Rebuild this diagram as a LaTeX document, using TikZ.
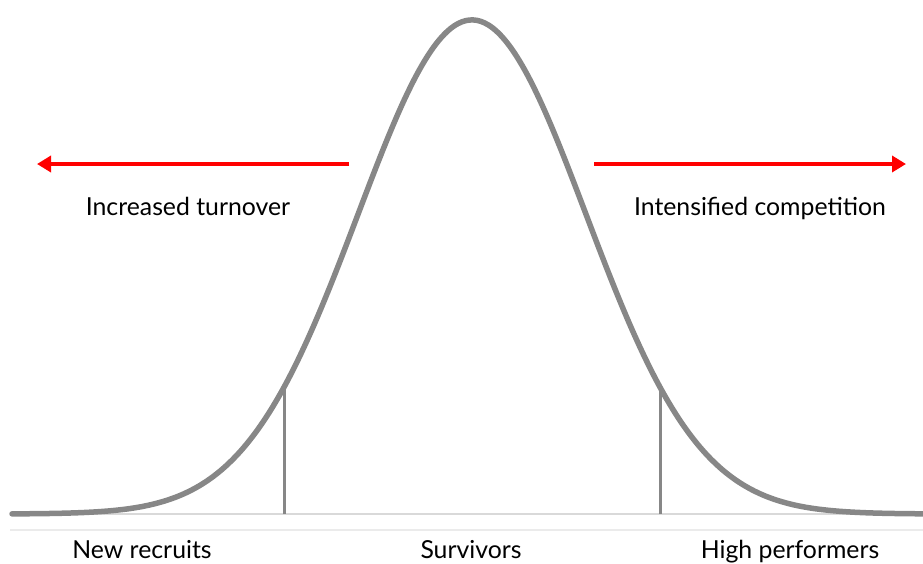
\documentclass[tikz,border=0pt]{standalone}
\usepackage{fontspec}
\setmainfont{Lato}
\usetikzlibrary{arrows.meta}
\definecolor{curvegray}{HTML}{878787}
\definecolor{axisgray}{HTML}{D9D9D9}
\definecolor{lightline}{HTML}{EBEBEB}
\definecolor{arrowred}{HTML}{FF0000}
\tikzset{
  curveline/.style={draw=curvegray, line width=5.5pt, line join=round, line cap=round},
  tickline/.style={draw=curvegray, line width=3pt},
  axisline/.style={draw=axisgray, line width=1.5pt},
  sepline/.style={draw=lightline, line width=1.2pt},
  redarrow/.style={draw=arrowred, line width=4pt, -{Triangle[length=14pt,width=16pt]}},
  label/.style={font=\fontsize{24.8}{28}\selectfont, text=black, inner sep=0pt, anchor=base}
}
\begin{document}
\begin{tikzpicture}[x=1pt,y=-1pt]
\useasboundingbox (0,0) rectangle (923,563);
% axis and separator lines
\coordinate (axL) at (10,514);
\coordinate (axR) at (923,514);
\coordinate (sepL) at (10,530);
\coordinate (sepR) at (923,530);
\draw[axisline] (axL) -- (axR);
\draw[sepline] (sepL) -- (sepR);
% vertical tick lines
\coordinate (tlb) at (284,514);
\coordinate (tlt) at (284,388);
\coordinate (trb) at (660,514);
\coordinate (trt) at (660,388);
\draw[tickline] (tlb) -- (tlt);
\draw[tickline] (trb) -- (trt);
% bell curve
\draw[curveline] plot[domain=12:923, samples=240, smooth]
  (\x, {514-494*exp(-0.5*((\x-472)/114)^2)});
% arrows
\coordinate (la1) at (349,164);
\coordinate (la2) at (37,164);
\coordinate (ra1) at (594,164);
\coordinate (ra2) at (906,164);
\draw[redarrow] (la1) -- (la2);
\draw[redarrow] (ra1) -- (ra2);
% labels
\node[label] (turnover) at (188,215) {Increased turnover};
\node[label] (competition) at (760,215) {Intensified competition};
\node[label] (recruits) at (142,558) {New recruits};
\node[label] (survivors) at (471,558) {Survivors};
\node[label] (performers) at (790,558) {High performers};
\end{tikzpicture}
\end{document}
